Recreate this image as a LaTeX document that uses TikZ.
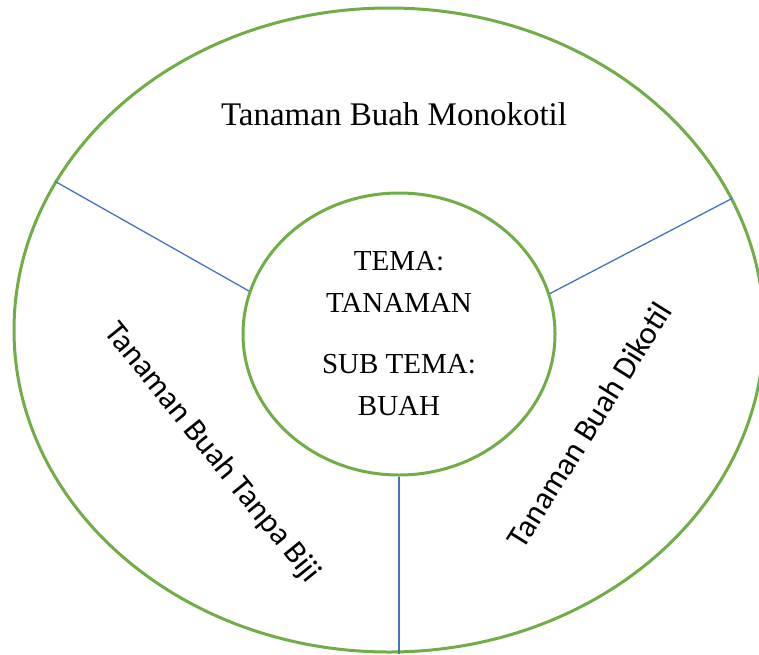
\documentclass[tikz,border=0pt]{standalone}
\usepackage{fontspec}
\setmainfont{Liberation Serif}
\newfontfamily\calfont{Carlito}
\usetikzlibrary{shapes.geometric}
\definecolor{ringgreen}{HTML}{70AD47}
\definecolor{lineblue}{HTML}{4472C4}
\tikzset{
    ring/.style={ellipse, draw=ringgreen, line width=3pt, inner sep=0pt},
    divider/.style={draw=lineblue, line width=1.3pt},
    sidelabel/.style={font=\calfont\fontsize{32}{38}\selectfont, inner sep=0pt}
}

\begin{document}
\begin{tikzpicture}[x=1pt,y=-1pt]
	\useasboundingbox (0,0) rectangle (759,654);

	\node[ring, minimum width=750pt, minimum height=644pt] (outer) at (389,330) {};
	\node[ring, minimum width=312pt, minimum height=282pt, align=center,
	      font=\fontsize{29}{42}\selectfont] (inner) at (399,334)
	      {TEMA:\\TANAMAN\\[19pt]SUB TEMA:\\BUAH};

	% garis pembagi
	\draw[divider] (inner.164) -- (outer.156);
	\draw[divider] (inner.15) -- (outer.21.3);
	\draw[divider] (inner.south) -- (inner.south |- outer.south);

	\node[font=\fontsize{33}{40}\selectfont, inner sep=0pt] (mono) at (394,114) {Tanaman Buah Monokotil};
	\node[sidelabel, rotate=-51] (tanpa) at (212,453) {Tanaman Buah Tanpa Biji};
	\node[sidelabel, rotate=58] (diko) at (589,425) {Tanaman Buah Dikotil};
\end{tikzpicture}
\end{document}
